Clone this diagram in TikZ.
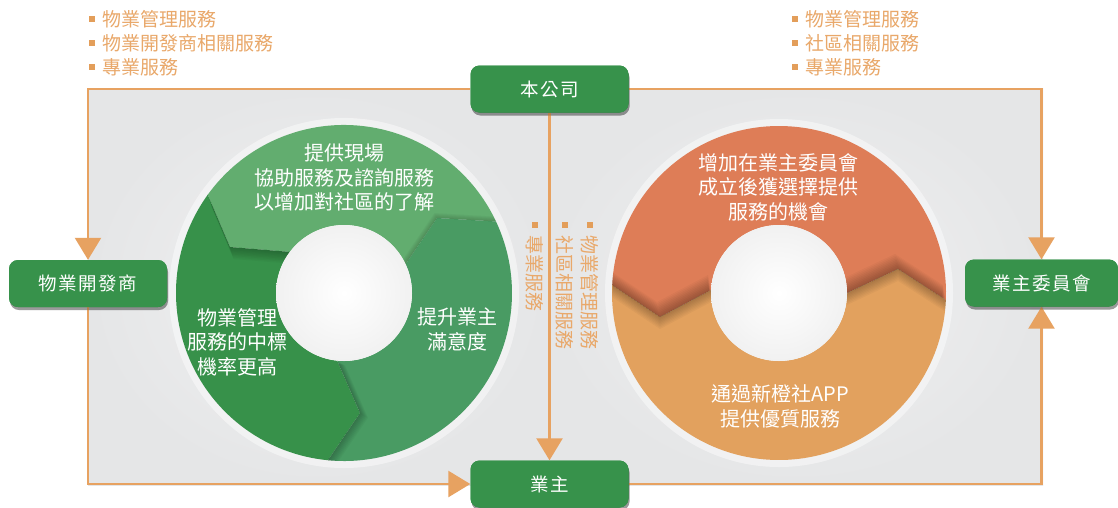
\documentclass[tikz,border=0pt]{standalone}
\usepackage{fontspec}
\setmainfont{Noto Sans CJK TC}
\newfontfamily\boxfont[LetterSpace=8]{Noto Sans CJK TC}
\usetikzlibrary{arrows.meta,shadows}
\definecolor{ora}{HTML}{E7A261}
\definecolor{oratxt}{HTML}{E9A86A}
\definecolor{bulc}{HTML}{E39E5A}
\definecolor{gbox}{HTML}{37924B}
\definecolor{gTop}{HTML}{62AD6F}
\definecolor{gLeft}{HTML}{37914A}
\definecolor{gRight}{HTML}{499B63}
\definecolor{rTop}{HTML}{DE7D57}
\definecolor{rBot}{HTML}{E2A15E}
\definecolor{panelout}{HTML}{E5E6E7}
\definecolor{panelin}{HTML}{F1F1F2}
\definecolor{holeout}{HTML}{F1F1F1}
\newcommand{\bul}{\textcolor{bulc}{\raisebox{4.5pt}{\rule{5.5pt}{5.5pt}}}\hspace{8pt}}
% ring segment paths
\def\pGT{([shift={(344,-293)}]25.2:168pt) arc[start angle=25.2, end angle=144.2, radius=168pt]
  -- (230,-247) -- ([shift={(344,-293)}]142.8:68pt) arc[start angle=142.8, end angle=25.1, radius=68pt]
  -- (437,-218) -- cycle}
\def\pGL{([shift={(344,-293)}]144.2:168pt) arc[start angle=144.2, end angle=264.5, radius=168pt]
  -- (360,-413) -- ([shift={(344,-293)}]264.2:68pt) arc[start angle=264.2, end angle=142.8, radius=68pt]
  -- (230,-247) -- cycle}
\def\pGR{([shift={(344,-293)}]264.5:168pt) arc[start angle=264.5, end angle=385.2, radius=168pt]
  -- (437,-218) -- ([shift={(344,-293)}]25.1:68pt) arc[start angle=385.1, end angle=264.2, radius=68pt]
  -- (360,-413) -- cycle}
\def\pRT{([shift={(779,-293)}]-2.4:167pt) arc[start angle=-2.4, end angle=177.3, radius=167pt]
  -- (660,-317) -- ([shift={(779,-293)}]177.5:68pt) arc[start angle=177.5, end angle=0, radius=68pt]
  -- (898,-269) -- cycle}
\def\pRB{([shift={(779,-293)}]177.3:167pt) arc[start angle=177.3, end angle=357.6, radius=167pt]
  -- (898,-269) -- ([shift={(779,-293)}]0:68pt) arc[start angle=360, end angle=177.5, radius=68pt]
  -- (660,-317) -- cycle}
\begin{document}
\begin{tikzpicture}[x=1pt,y=1pt,
  box/.style={fill=gbox, rounded corners=9pt, minimum width=158pt, minimum height=47pt, inner sep=0pt, text=white,
    font=\boxfont\fontsize{18.5pt}{22pt}\selectfont,
    drop shadow={shadow xshift=1pt, shadow yshift=-3pt, opacity=0.22, fill=black}},
  conn/.style={draw=ora, line width=2.5pt},
  arr/.style={conn, -{Triangle[width=26pt,length=22pt]}},
  lst/.style={anchor=west, inner sep=0pt, text=oratxt, font=\fontsize{19pt}{24pt}\selectfont},
  ctext/.style={text=white, align=center, inner sep=0pt, font=\fontsize{20pt}{24.5pt}\selectfont},
  shd/.style={fill=black, opacity=0.03},
]
\useasboundingbox (0,0) rectangle (1118,-507);
\fill[white] (0,0) rectangle (1118,-507);
% panels
\shade[inner color=panelin, outer color=panelout] (88,-88) rectangle (548,-485);
\shade[inner color=panelin, outer color=panelout] (548,-88) rectangle (1043,-485);

% nodes (boxes)
\node[box] (cmp) at (549.5,-89) {本公司};
\node[box] (dev) at (88,-283.5) {物業開發商};
\node[box, minimum width=153pt] (com) at (1041.5,-283) {業主委員會};
\node[box] (own) at (549.5,-484) {業主};

% connectors
\draw[arr] (cmp.west) -| (dev.north);
\draw[arr] (cmp.east) -| (com.north);
\draw[arr] (dev.south) |- (own.west);
\draw[arr] (own.east) -| (com.south);
\draw[arr] (cmp.south) -- (own.north);

% boxes again, above the connectors
\node[box] at (cmp) {本公司};
\node[box] at (dev) {物業開發商};
\node[box, minimum width=153pt] at (com) {業主委員會};
\node[box] at (own) {業主};

% left ring
\fill[white, opacity=0.45] (344,-293) circle[radius=175pt];
\fill[gTop] \pGT;
\fill[gLeft] \pGL;
\fill[gRight] \pGR;
\begin{scope}
  \clip \pGL;
  \foreach \s in {1.5,3,...,12} {\begin{scope}[shift={(0.3*\s,-\s)}]\fill[shd] \pGT;\end{scope}}
\end{scope}
\begin{scope}
  \clip \pGR;
  \foreach \s in {1,2,...,8} {\begin{scope}[shift={(\s,-0.6*\s)}]\fill[shd] \pGL;\end{scope}}
\end{scope}
\begin{scope}
  \clip \pGT;
  \foreach \s in {1,2,...,5} {\begin{scope}[shift={(-0.5*\s,\s)}]\fill[shd] \pGR;\end{scope}}
\end{scope}
\shade[inner color=white, outer color=holeout] (344,-293) circle[radius=68pt];

% right ring
\fill[white, opacity=0.45] (779,-293) circle[radius=174pt];
\fill[rTop] \pRT;
\fill[rBot] \pRB;
\begin{scope}
  \clip \pRB;
  \foreach \s in {1.5,3,...,12} {\begin{scope}[shift={(0,-\s)}]\fill[shd] \pRT;\end{scope}}
\end{scope}
\begin{scope}
  \clip \pRT;
  \foreach \s in {1.5,3,...,15} {\begin{scope}[shift={(-0.2*\s,\s)}]\fill[shd] \pRB;\end{scope}}
\end{scope}
\shade[inner color=white, outer color=holeout] (779,-293) circle[radius=68pt];

% ring texts
\node[ctext] (t1) at (344,-177.5) {提供現場\\協助服務及諮詢服務\\以增加對社區的了解};
\node[ctext] (t2) at (237,-342) {物業管理\\服務的中標\\機率更高};
\node[ctext] (t3) at (457,-329.5) {提升業主\\滿意度};
\node[ctext] (t4) at (778.5,-187) {增加在業主委員會\\成立後獲選擇提供\\服務的機會};
\node[ctext] (t5) at (780,-406.5) {通過新橙社APP\\提供優質服務};

% top lists
\node[lst] (a1) at (89,-19) {\bul 物業管理服務};
\node[lst] (a2) at (89,-43) {\bul 物業開發商相關服務};
\node[lst] (a3) at (89,-67) {\bul 專業服務};
\node[lst] (b1) at (792,-19) {\bul 物業管理服務};
\node[lst] (b2) at (792,-43) {\bul 社區相關服務};
\node[lst] (b3) at (792,-67) {\bul 專業服務};

% vertical lists
\node[lst, rotate=-90] (v1) at (590,-222) {\bul 物業管理服務};
\node[lst, rotate=-90] (v2) at (565,-222) {\bul 社區相關服務};
\node[lst, rotate=-90] (v3) at (535,-222) {\bul 專業服務};
\end{tikzpicture}
\end{document}
